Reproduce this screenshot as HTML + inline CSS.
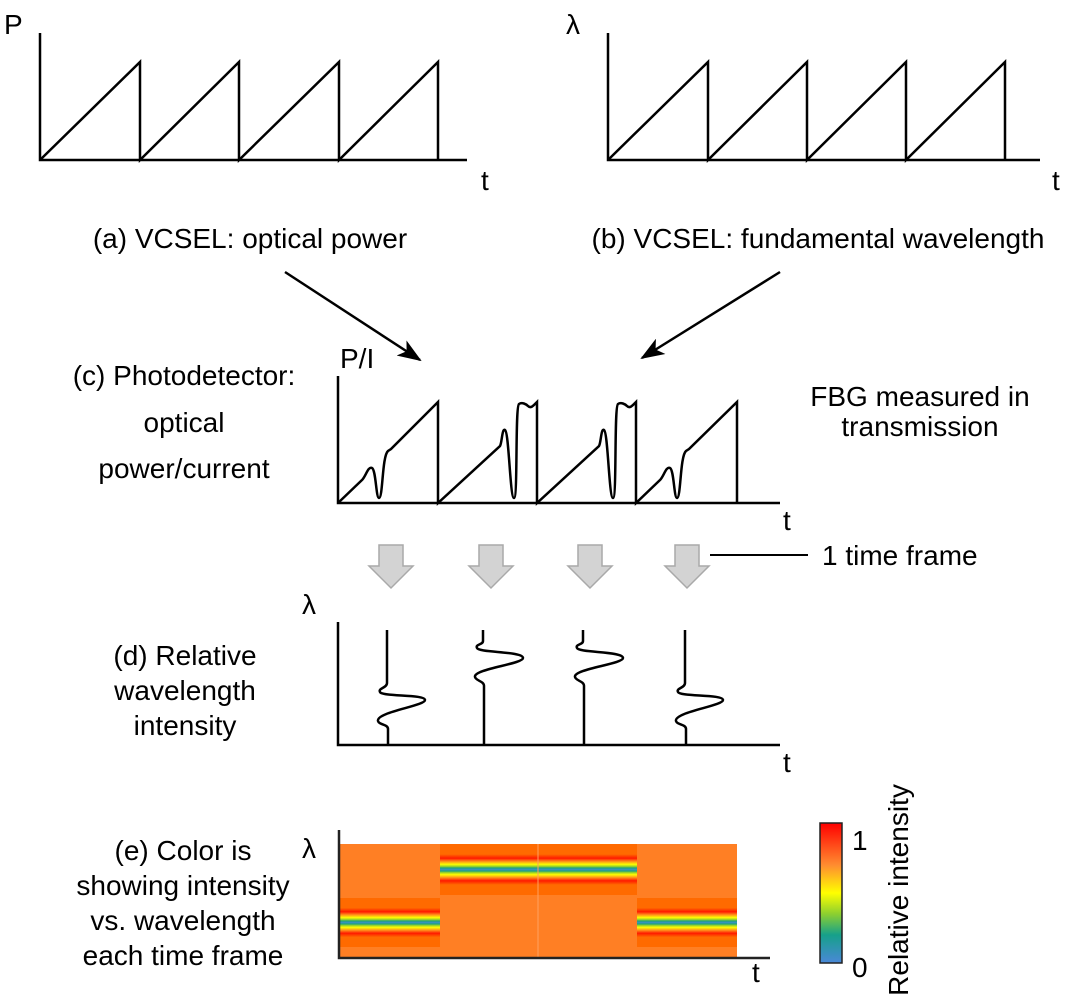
<!DOCTYPE html>
<html><head><meta charset="utf-8"><style>
html,body{margin:0;padding:0;background:#fff}
svg{display:block}
text{font-family:"Liberation Sans",Arial,sans-serif;fill:#000}
</style></head><body>
<svg width="1070" height="1000" viewBox="0 0 1070 1000" xmlns="http://www.w3.org/2000/svg">
<defs>
<linearGradient id="band" x1="0" y1="0" x2="0" y2="1">
<stop offset="0" stop-color="#ff6a00"/>
<stop offset="0.2" stop-color="#ff6a00"/>
<stop offset="0.28" stop-color="#ff1a00"/>
<stop offset="0.34" stop-color="#ff8c1a"/>
<stop offset="0.4" stop-color="#ffff00"/>
<stop offset="0.44" stop-color="#9ad22a"/>
<stop offset="0.47" stop-color="#1fa37a"/>
<stop offset="0.5" stop-color="#3c8fc8"/>
<stop offset="0.53" stop-color="#1fa37a"/>
<stop offset="0.56" stop-color="#9ad22a"/>
<stop offset="0.6" stop-color="#ffff00"/>
<stop offset="0.66" stop-color="#ff8c1a"/>
<stop offset="0.72" stop-color="#ff1a00"/>
<stop offset="0.8" stop-color="#ff6a00"/>
<stop offset="1" stop-color="#ff6a00"/>
</linearGradient>
<linearGradient id="cbar" x1="0" y1="0" x2="0" y2="1">
<stop offset="0" stop-color="#ff0000"/>
<stop offset="0.3" stop-color="#ff8c30"/>
<stop offset="0.5" stop-color="#ffff00"/>
<stop offset="0.65" stop-color="#8ccf30"/>
<stop offset="0.8" stop-color="#16a08a"/>
<stop offset="1" stop-color="#4a88d8"/>
</linearGradient>
<marker id="ah" markerWidth="24" markerHeight="18" refX="22" refY="9" orient="auto" markerUnits="userSpaceOnUse" viewBox="0 0 24 18">
<path d="M0,0 L24,9 L0,18 L6,9 z" fill="#000"/>
</marker>
</defs>
<g fill="none" stroke="#000" stroke-width="2.5">
<polyline points="40,33 40,160 467,160"/>
<polyline points="40,160 140,62 140,160 239,62 239,160 339,62 339,160 438,62 438,160"/>
<polyline points="608,33 608,160 1040,160"/>
<polyline points="608,160 708,62 708,160 807,62 807,160 906,62 906,160 1005,62 1005,160"/>
<line x1="285" y1="272" x2="420" y2="360" marker-end="url(#ah)"/>
<line x1="780" y1="272" x2="642" y2="358" marker-end="url(#ah)"/>
<polyline points="338,376 338,503 780,503"/>
<path d="M338,503 L362,480 C366,476 368,466 372,468 C376,470 376,498 379,498 C383,498 382,456 388,451 L391,449 L438,402 L438,503 L500,446 C502,443 502,428 505,430 C509,432 510,498 514,498 C518,498 515,407 519,404 C522,402 526,404 528,406 C531,409 534,405 537,402 L537,503 L599,446 C601,443 601,428 604,430 C608,432 609,498 613,498 C617,498 614,407 618,404 C621,402 625,404 627,406 C630,409 633,405 636,402 L636,503 L660,480 C664,476 666,466 670,468 C674,470 674,498 677,498 C681,498 680,456 686,451 L689,449 L737,402 L737,503"/>
<line x1="710" y1="555" x2="808" y2="555" stroke-width="2"/>
<polyline points="338,622 338,745 780,745"/>
<path d="M387,630 L387,683 C387,688 378,688 380,692 C382,697 425,694 425,700 C425,706 376,712 378,721 C379,725 388,724 388,729 L388,745"/>
<path d="M483,630 L483,641 C483,645 475,644 477,648 C479,653 523,651 523,658 C523,664 473,669 475,677 C476,681 484,681 484,686 L484,745"/>
<path d="M583,630 L583,641 C583,645 575,644 577,648 C579,653 623,651 623,658 C623,664 573,669 575,677 C576,681 584,681 584,686 L584,745"/>
<path d="M685,630 L685,683 C685,688 676,688 678,692 C680,697 723,694 723,700 C723,706 674,712 676,721 C677,725 686,724 686,729 L686,745"/>
</g>
<g fill="#d3d3d3" stroke="#a9a9a9" stroke-width="1.5">
<path d="M379,545 H403 V566 H413 L391,588 L369,566 H379 Z"/>
<path d="M479,545 H503 V566 H513 L491,588 L469,566 H479 Z"/>
<path d="M578,545 H602 V566 H612 L590,588 L568,566 H578 Z"/>
<path d="M675,545 H699 V566 H709 L687,588 L665,566 H675 Z"/>
</g>
<rect x="340" y="844" width="397" height="113" fill="#ff7f24"/>
<rect x="440" y="844" width="197" height="51" fill="url(#band)"/>
<rect x="340" y="898" width="100" height="49" fill="url(#band)"/>
<rect x="637" y="898" width="100" height="49" fill="url(#band)"/>
<line x1="538" y1="844" x2="538" y2="957" stroke="#ffa060" stroke-width="1"/>
<polyline points="339,830 339,958 770,958" fill="none" stroke="#222" stroke-width="2.5"/>
<rect x="820" y="823" width="22" height="140" fill="url(#cbar)" stroke="#222" stroke-width="1.5"/>
<g font-size="28">
<text x="4" y="34">P</text>
<text x="481" y="190">t</text>
<text x="566" y="34">λ</text>
<text x="1052" y="190">t</text>
<text x="250" y="248" text-anchor="middle">(a) VCSEL: optical power</text>
<text x="818" y="248" text-anchor="middle">(b) VCSEL: fundamental wavelength</text>
<text x="340" y="368">P/I</text>
<text x="783" y="530">t</text>
<text x="920" y="406" text-anchor="middle">FBG measured in</text>
<text x="920" y="436" text-anchor="middle">transmission</text>
<text x="184" y="385" text-anchor="middle">(c) Photodetector:</text>
<text x="184" y="432" text-anchor="middle">optical</text>
<text x="184" y="478" text-anchor="middle">power/current</text>
<text x="822" y="565">1 time frame</text>
<text x="302" y="614">λ</text>
<text x="783" y="772">t</text>
<text x="185" y="665" text-anchor="middle">(d) Relative</text>
<text x="185" y="700" text-anchor="middle">wavelength</text>
<text x="185" y="735" text-anchor="middle">intensity</text>
<text x="302" y="858">λ</text>
<text x="752" y="982">t</text>
<text x="183" y="860" text-anchor="middle">(e) Color is</text>
<text x="183" y="895" text-anchor="middle">showing intensity</text>
<text x="183" y="930" text-anchor="middle">vs. wavelength</text>
<text x="183" y="965" text-anchor="middle">each time frame</text>
<text x="852" y="850">1</text>
<text x="852" y="977">0</text>
<text transform="translate(908,890) rotate(-90)" text-anchor="middle">Relative intensity</text>
</g>
</svg>
</body></html>
